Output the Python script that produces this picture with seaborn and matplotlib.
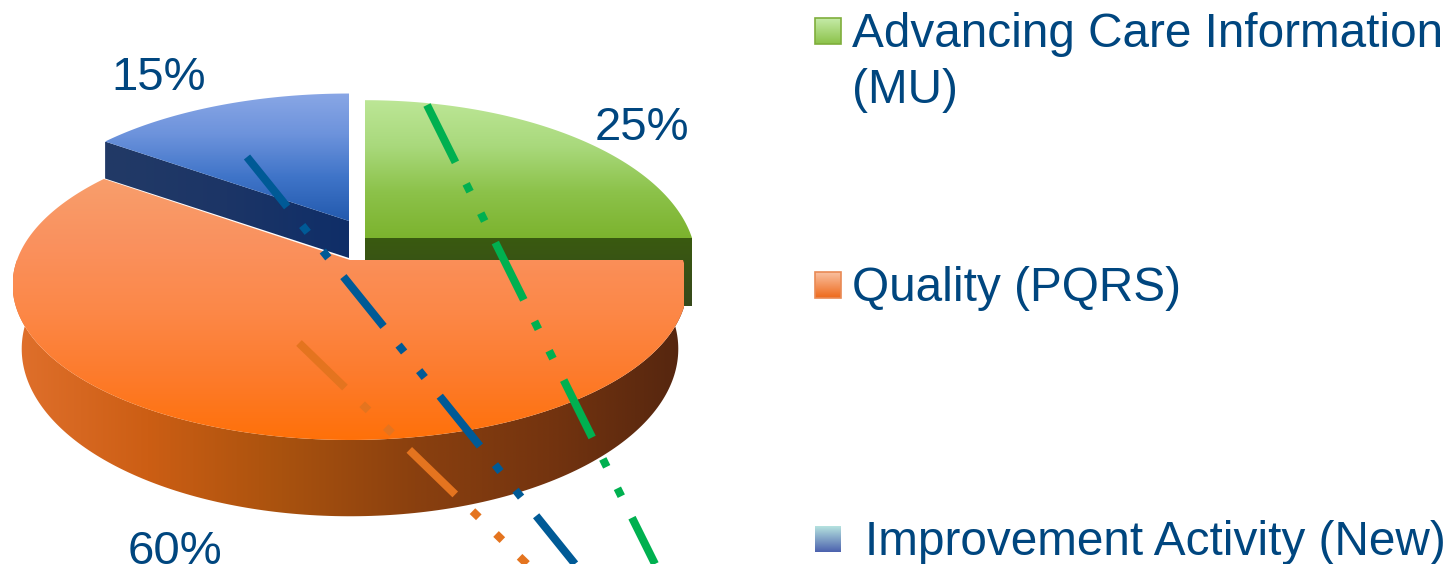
import numpy as np
import matplotlib
matplotlib.use("Agg")
import matplotlib.pyplot as plt
from matplotlib.patches import Polygon, Rectangle
import seaborn as sns

# ---- data ----
categories = ["Advancing Care Information\n(MU)", "Quality (PQRS)", "Improvement Activity (New)"]
shares = [25, 60, 15]
share_labels = ["25%", "60%", "15%"]

# ---- style ----
sns.set_theme(style="white")
plt.rcParams["font.family"] = ["Liberation Sans", "DejaVu Sans"]
TEXT = "#00467F"
K = 0.161  # perspective

fig = plt.figure(figsize=(14.52, 5.64), dpi=100)
ax = fig.add_axes([0, 0, 1, 1])
wedges, _ = ax.pie(shares, startangle=90, counterclock=False)
spans = [(w.theta1, w.theta2) for w in wedges]
for w in wedges:
    w.remove()
ax.set_aspect("auto")
ax.set_xlim(0, 1452)
ax.set_ylim(564, 0)
ax.set_autoscale_on(False)
ax.axis("off")


def ramp(stops):
    return sns.blend_palette(stops, n_colors=256, as_cmap=True)


def arc(span, cx, cy, rx, ry, depth=0.0, n=240):
    t = np.radians(np.linspace(span[0], span[1], n))
    u, v = np.cos(t), np.sin(t)
    d = 1 + K * v
    return np.column_stack([cx + rx * u / d, cy - ry * v / d + depth / d])


def fill(points, cmap, x0, x1, y0, y1, horizontal=False, z=1):
    grad = np.linspace(0, 1, 256)
    grad = grad[None, :] if horizontal else grad[:, None]
    im = ax.imshow(grad, cmap=cmap, extent=(x0, x1, y1, y0), aspect="auto",
                   zorder=z, interpolation="bilinear")
    clip = Polygon(points, closed=True, transform=ax.transData)
    im.set_clip_path(clip)
    return im


green_top = ramp(["#BCE696", "#A9D97C", "#8CC24A", "#7CB32E"])
green_face = ramp(["#3A5A10", "#36491C"])
orange_top = ramp(["#F89E6C", "#FA915E", "#FC8848", "#FD7B2C", "#FF7008"])
orange_wall = ramp(["#E0702C", "#CC5E14", "#A9520E", "#8A400F", "#74340F", "#55260F"])
blue_top = ramp(["#8BA8E6", "#6D93DC", "#3F74C8", "#235AAE"])
blue_face = ramp(["#223A66", "#1C3566", "#0F2E68"])

# green slice
g = dict(cx=365, cy=238, rx=327, ry=160)
a = arc(spans[0], **g)
end = a[np.argmax(a[:, 0])]
face = [(g["cx"], g["cy"]), end, end + (0, 68), (g["cx"], g["cy"] + 68)]
fill(face, green_face, 365, 692, 238, 306, z=1)
fill(np.vstack([[g["cx"], g["cy"]], a]), green_top, 365, 692, 100, 238, z=2)

# blue slice
b = dict(cx=349, cy=221, rx=330, ry=148)
a = arc(spans[2], **b)
corner = a[np.argmin(a[:, 0])]
face = [(b["cx"], b["cy"]), corner, corner + (0, 37), (b["cx"], b["cy"] + 37)]
fill(face, blue_face, 105, 349, 142, 258, horizontal=True, z=1)
fill(np.vstack([[b["cx"], b["cy"]], a]), blue_top, 105, 349, 90, 221, z=2)

# orange slice
o = dict(cx=350, cy=260, rx=333, ry=151)
top_arc = arc(spans[1], **o)
low_arc = arc(spans[1], cx=350, cy=260, rx=324, ry=153, depth=62)
fill(np.vstack([top_arc, low_arc[::-1]]), orange_wall, 13, 684, 260, 520, horizontal=True, z=3)
fill(np.vstack([[o["cx"], o["cy"]], top_arc]), orange_top, 13, 684, 178, 442, z=4)

# dash-dot-dot guide lines
pattern = (0, (8, 3, 1.1, 3, 1.1, 3))
lw = 5.76
guides = [((427, 105), (655, 564), "#00B050"),
          ((247, 157), (575, 564), "#005A96"),
          ((299, 343), (527, 564), "#E4741F")]
for p, q, c in guides:
    ax.plot([p[0], q[0]], [p[1], q[1]], color=c, lw=lw, linestyle=pattern,
            dash_capstyle="butt", zorder=6)

# slice labels
for lab, (x, y) in zip(share_labels, [(595, 140), (128, 564), (111, 90)]):
    ax.text(x, y, lab, color=TEXT, fontsize=34, ha="left", va="baseline", zorder=7)

# legend
swatches = [ramp(["#C5EBA8", "#8CC24A"]), ramp(["#F9C0A0", "#EE6A1C"]), ramp(["#B5E2DF", "#4C62AE"])]
edges = ["#7FAE3C", "#E98A55", "none"]
ys = [31, 285, 539]
text_x = [852, 852, 865]
baselines = [47, 301, 555]
for name, cm, ec, y, tx, base in zip(categories, swatches, edges, ys, text_x, baselines):
    ax.imshow(np.linspace(0, 1, 64)[:, None], cmap=cm, extent=(815, 841, y + 13, y - 13),
              aspect="auto", zorder=5)
    ax.add_patch(Rectangle((815, y - 13), 26, 26, fc="none", ec=ec, lw=1.2, zorder=6))
    lines = name.split("\n")
    for i, line in enumerate(lines):
        ax.text(tx, base + i * 56, line, color=TEXT, fontsize=34.4, ha="left", va="baseline", zorder=7)

fig.savefig("out.png", dpi=100, facecolor="white")
